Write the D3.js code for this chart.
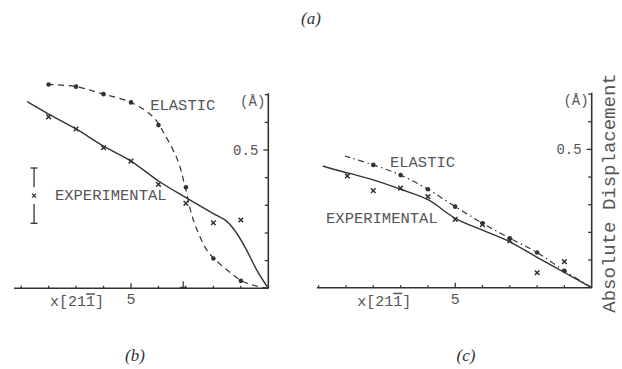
<!DOCTYPE html>
<html>
<head>
<meta charset="utf-8">
<script src="https://cdn.jsdelivr.net/npm/d3@7"></script>
<style>
  html, body { margin: 0; padding: 0; background: #fff; }
  svg { display: block; }
  .mono { font-family: "Liberation Mono", "DejaVu Sans Mono", monospace; fill: #555; }
  .cap { font-family: "Liberation Serif", "DejaVu Serif", serif; font-style: italic; fill: #333; }
</style>
</head>
<body>
<svg id="chart" width="622" height="369"></svg>
<script>
// panel (b): displacement vs distance x[21-1] (Å)
const bElasticDots = [[8, 0.737], [7, 0.729], [6, 0.702], [5, 0.672], [4, 0.59], [3, 0.365], [2, 0.108], [1, 0.027]];
const bElasticCurve = [[8, 0.737], [7, 0.729], [6, 0.702], [5, 0.672], [4.2, 0.62], [3.76, 0.554], [3.28, 0.458],
  [3.03, 0.367], [2.73, 0.247], [2.24, 0.138], [1.98, 0.108], [1.5, 0.066], [0.97, 0.027], [0.5, 0.01], [0, 0]];
const bExpMarks = [[8, 0.62], [7, 0.576], [6, 0.508], [5, 0.46], [4, 0.376], [3, 0.307], [2, 0.237], [1, 0.247]];
const bExpCurve = [[8.78, 0.675], [8, 0.63], [7, 0.576], [6, 0.514], [5, 0.46], [4, 0.388], [3, 0.328], [2, 0.27],
  [1.5, 0.241], [1.15, 0.199], [0.79, 0.138], [0.42, 0.066], [0, 0]];
const bErrorBar = { x: 8.53, y: 0.335, half: 0.1 };

// panel (c)
const cElasticDots = [[8, 0.444], [7, 0.407], [6, 0.356], [5, 0.293], [4, 0.233], [3, 0.179], [2, 0.127], [1, 0.061]];
const cElasticCurve = [[9.04, 0.476], [8, 0.444], [7, 0.407], [6, 0.356], [5, 0.293], [4, 0.233], [3, 0.179],
  [2, 0.127], [1, 0.061], [0, 0]];
const cExpMarks = [[8.95, 0.404], [8, 0.351], [7, 0.36], [6, 0.329], [5, 0.247], [4, 0.228], [3, 0.17], [2, 0.054], [1, 0.094]];
const cExpCurve = [[9.85, 0.44], [9.58, 0.432], [8.9, 0.414], [8, 0.39], [7, 0.356], [6, 0.318], [5, 0.251],
  [4, 0.208], [3, 0.166], [2, 0.11], [1, 0.055], [0, 0]];

const xTicks = [1, 2, 3, 4, 5, 6, 7, 8, 9, 10];
const yTicks = [0.1, 0.2, 0.3, 0.4, 0.5, 0.6, 0.7];
const yTop = 0.705;

const svg = d3.select('#chart');
const ink = '#333';

function crossPath(x, y, s) {
  return `M${x - s},${y - s}L${x + s},${y + s}M${x - s},${y + s}L${x + s},${y - s}`;
}

function panel(opt) {
  const x = d3.scaleLinear().domain([0, opt.xMax]).range([opt.x0, opt.x0 - opt.unit * opt.xMax]);
  const y = d3.scaleLinear().domain([0, yTop]).range([opt.y0, opt.y0 - 276.6 * yTop]);
  const g = svg.append('g');
  const ox = x(0), oy = y(0);

  // axes: base line and the vertical scale on the right
  g.append('line').attr('x1', x(opt.xMax)).attr('x2', ox).attr('y1', oy).attr('y2', oy)
    .attr('stroke', ink).attr('stroke-width', 1.5);
  g.append('line').attr('x1', ox).attr('x2', ox).attr('y1', oy).attr('y2', y(yTop))
    .attr('stroke', ink).attr('stroke-width', 1.6);

  // x ticks point up, y ticks point left
  g.selectAll('line.xt').data(xTicks.filter((t) => t <= opt.xMax)).join('line').attr('class', 'xt')
    .attr('x1', (d) => x(d)).attr('x2', (d) => x(d))
    .attr('y1', oy).attr('y2', (d) => oy - (d === 5 ? 5 : 2.5)).attr('stroke', ink).attr('stroke-width', 1.3);
  g.selectAll('line.yt').data(yTicks).join('line').attr('class', 'yt')
    .attr('y1', (d) => y(d)).attr('y2', (d) => y(d))
    .attr('x1', ox).attr('x2', (d) => ox - (d === 0.5 ? 5 : 3.5)).attr('stroke', ink).attr('stroke-width', 1.3);

  g.append('text').attr('class', 'mono').attr('font-size', 15)
    .attr('x', x(5)).attr('y', oy + 16).attr('text-anchor', 'middle').text('5');
  g.append('text').attr('class', 'mono').attr('font-size', 14)
    .attr('x', ox - 10).attr('y', y(0.5) + 5).attr('text-anchor', 'end').text('0.5');
  g.append('text').attr('class', 'mono').attr('font-size', 14)
    .attr('x', ox - 3).attr('y', y(0.66)).attr('text-anchor', 'end').text('(\u00c5)');

  // x label with bar over last index
  const lab = g.append('text').attr('class', 'mono').attr('font-size', 15)
    .attr('x', x(opt.labX)).attr('y', oy + 18);
  lab.append('tspan').text('x[21');
  lab.append('tspan').style('text-decoration', 'overline').text('1');
  lab.append('tspan').text(']');

  const line = d3.line().x((d) => x(d[0])).y((d) => y(d[1])).curve(d3.curveCatmullRom.alpha(0.5));

  g.append('path').datum(opt.elasticCurve.slice().sort((a, b) => a[0] - b[0]))
    .attr('d', line).attr('fill', 'none').attr('stroke', ink).attr('stroke-width', 1.2)
    .attr('stroke-dasharray', opt.dash);
  g.append('path').datum(opt.expCurve.slice().sort((a, b) => a[0] - b[0]))
    .attr('d', line).attr('fill', 'none').attr('stroke', ink).attr('stroke-width', 1.4);

  g.selectAll('circle.el').data(opt.elasticDots).join('circle').attr('class', 'el')
    .attr('cx', (d) => x(d[0])).attr('cy', (d) => y(d[1])).attr('r', 2.3).attr('fill', '#333');
  g.selectAll('path.ex').data(opt.expMarks).join('path').attr('class', 'ex')
    .attr('d', (d) => crossPath(x(d[0]), y(d[1]), 2.3))
    .attr('stroke', '#333').attr('stroke-width', 1.5).attr('fill', 'none');

  opt.labels.forEach((l) => {
    g.append('text').attr('class', 'mono').attr('font-size', 15.5)
      .attr('x', x(l.x)).attr('y', y(l.y)).text(l.text);
  });
  return { g, x, y };
}

const pb = panel({
  x0: 268.3, y0: 288.3, unit: 27.46, xMax: 9.26, labX: 7.95, dash: '6,4.5',
  elasticCurve: bElasticCurve, expCurve: bExpCurve, elasticDots: bElasticDots, expMarks: bExpMarks,
  labels: [{ x: 4.3, y: 0.645, text: 'ELASTIC' }, { x: 7.77, y: 0.32, text: 'EXPERIMENTAL' }],
});

// scale bar of +-0.1 Å in panel (b)
const eb = pb.g.append('g').attr('stroke', ink).attr('stroke-width', 1.3);
const ex = pb.x(bErrorBar.x);
eb.append('line').attr('x1', ex).attr('x2', ex)
  .attr('y1', pb.y(bErrorBar.y + bErrorBar.half)).attr('y2', pb.y(bErrorBar.y + 0.03));
eb.append('line').attr('x1', ex).attr('x2', ex)
  .attr('y1', pb.y(bErrorBar.y - 0.03)).attr('y2', pb.y(bErrorBar.y - bErrorBar.half));
[bErrorBar.y + bErrorBar.half, bErrorBar.y - bErrorBar.half].forEach((v) => {
  eb.append('line').attr('x1', ex - 3.5).attr('x2', ex + 3.5).attr('y1', pb.y(v)).attr('y2', pb.y(v));
});
pb.g.append('path').attr('d', crossPath(ex, pb.y(bErrorBar.y), 2))
  .attr('stroke', '#333').attr('stroke-width', 1.3);

// small mark on the axis of (b)
pb.g.append('path')
  .attr('d', `M${pb.x(3.1)},${pb.y(0)}V${pb.y(0) - 7}M${pb.x(3.1) - 3},${pb.y(0) - 1}L${pb.x(3.1) + 3},${pb.y(0) - 1}`)
  .attr('stroke', ink).attr('stroke-width', 1.2).attr('fill', 'none');

const pc = panel({
  x0: 591.7, y0: 287.7, unit: 27.3, xMax: 10.07, labX: 8.59, dash: '6,3.5,1.5,3.5',
  elasticCurve: cElasticCurve, expCurve: cExpCurve, elasticDots: cElasticDots, expMarks: cExpMarks,
  labels: [{ x: 7.39, y: 0.438, text: 'ELASTIC' }, { x: 9.73, y: 0.235, text: 'EXPERIMENTAL' }],
});

svg.append('text').attr('class', 'mono').attr('font-size', 19)
  .attr('transform', 'translate(615,193) rotate(-90)').attr('text-anchor', 'middle')
  .text('Absolute Displacement');

svg.append('text').attr('class', 'cap').attr('font-size', 17).attr('x', 311).attr('y', 24)
  .attr('text-anchor', 'middle').text('(a)');
svg.append('text').attr('class', 'cap').attr('font-size', 17).attr('x', 135).attr('y', 361)
  .attr('text-anchor', 'middle').text('(b)');
svg.append('text').attr('class', 'cap').attr('font-size', 17).attr('x', 466).attr('y', 361)
  .attr('text-anchor', 'middle').text('(c)');
</script>
</body>
</html>
